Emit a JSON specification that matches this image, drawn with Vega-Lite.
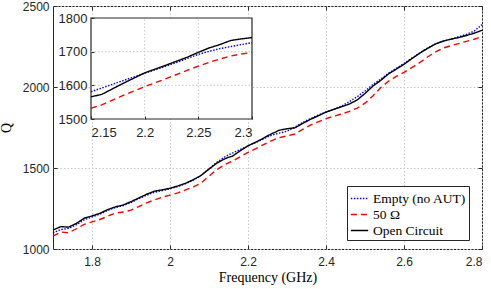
{
  "$schema": "https://vega.github.io/schema/vega-lite/v6.json",
  "width": 429,
  "height": 243,
  "autosize": "none",
  "padding": {"left": 53, "top": 6, "right": 9, "bottom": 40},
  "background": "white",
  "config": {
    "view": {"stroke": "#262626", "strokeWidth": 1},
    "axis": {"labelFont": "Liberation Sans", "labelColor": "#262626", "tickColor": "#262626", "titleFont": "Liberation Serif", "titleColor": "#000000", "titleFontWeight": "normal", "domain": false},
    "legend": {"labelFont": "Liberation Serif"}
  },
  "datasets": {
    "curves": [
      {"f":1.70,"Q":1100,"s":"Empty (no AUT)"},{"f":1.72,"Q":1120,"s":"Empty (no AUT)"},{"f":1.74,"Q":1127,"s":"Empty (no AUT)"},{"f":1.76,"Q":1150,"s":"Empty (no AUT)"},{"f":1.78,"Q":1180,"s":"Empty (no AUT)"},{"f":1.80,"Q":1198,"s":"Empty (no AUT)"},{"f":1.82,"Q":1215,"s":"Empty (no AUT)"},{"f":1.84,"Q":1238,"s":"Empty (no AUT)"},{"f":1.86,"Q":1256,"s":"Empty (no AUT)"},{"f":1.88,"Q":1268,"s":"Empty (no AUT)"},{"f":1.90,"Q":1287,"s":"Empty (no AUT)"},{"f":1.92,"Q":1310,"s":"Empty (no AUT)"},{"f":1.94,"Q":1332,"s":"Empty (no AUT)"},{"f":1.96,"Q":1350,"s":"Empty (no AUT)"},{"f":1.98,"Q":1360,"s":"Empty (no AUT)"},{"f":2.00,"Q":1372,"s":"Empty (no AUT)"},{"f":2.02,"Q":1386,"s":"Empty (no AUT)"},{"f":2.04,"Q":1403,"s":"Empty (no AUT)"},{"f":2.06,"Q":1425,"s":"Empty (no AUT)"},{"f":2.08,"Q":1455,"s":"Empty (no AUT)"},{"f":2.10,"Q":1495,"s":"Empty (no AUT)"},{"f":2.12,"Q":1535,"s":"Empty (no AUT)"},{"f":2.14,"Q":1568,"s":"Empty (no AUT)"},{"f":2.15,"Q":1581,"s":"Empty (no AUT)"},{"f":2.16,"Q":1592,"s":"Empty (no AUT)"},{"f":2.18,"Q":1614,"s":"Empty (no AUT)"},{"f":2.20,"Q":1636,"s":"Empty (no AUT)"},{"f":2.22,"Q":1657,"s":"Empty (no AUT)"},{"f":2.24,"Q":1680,"s":"Empty (no AUT)"},{"f":2.25,"Q":1692,"s":"Empty (no AUT)"},{"f":2.26,"Q":1701,"s":"Empty (no AUT)"},{"f":2.27,"Q":1709,"s":"Empty (no AUT)"},{"f":2.28,"Q":1715,"s":"Empty (no AUT)"},{"f":2.29,"Q":1721,"s":"Empty (no AUT)"},{"f":2.30,"Q":1727,"s":"Empty (no AUT)"},{"f":2.32,"Q":1752,"s":"Empty (no AUT)"},{"f":2.34,"Q":1780,"s":"Empty (no AUT)"},{"f":2.36,"Q":1805,"s":"Empty (no AUT)"},{"f":2.38,"Q":1826,"s":"Empty (no AUT)"},{"f":2.40,"Q":1846,"s":"Empty (no AUT)"},{"f":2.42,"Q":1862,"s":"Empty (no AUT)"},{"f":2.44,"Q":1882,"s":"Empty (no AUT)"},{"f":2.46,"Q":1910,"s":"Empty (no AUT)"},{"f":2.48,"Q":1940,"s":"Empty (no AUT)"},{"f":2.50,"Q":1975,"s":"Empty (no AUT)"},{"f":2.52,"Q":2015,"s":"Empty (no AUT)"},{"f":2.54,"Q":2048,"s":"Empty (no AUT)"},{"f":2.56,"Q":2085,"s":"Empty (no AUT)"},{"f":2.58,"Q":2115,"s":"Empty (no AUT)"},{"f":2.60,"Q":2145,"s":"Empty (no AUT)"},{"f":2.62,"Q":2178,"s":"Empty (no AUT)"},{"f":2.64,"Q":2210,"s":"Empty (no AUT)"},{"f":2.66,"Q":2240,"s":"Empty (no AUT)"},{"f":2.68,"Q":2265,"s":"Empty (no AUT)"},{"f":2.70,"Q":2282,"s":"Empty (no AUT)"},{"f":2.72,"Q":2295,"s":"Empty (no AUT)"},{"f":2.74,"Q":2310,"s":"Empty (no AUT)"},{"f":2.76,"Q":2325,"s":"Empty (no AUT)"},{"f":2.78,"Q":2345,"s":"Empty (no AUT)"},{"f":2.80,"Q":2385,"s":"Empty (no AUT)"},
      {"f":1.70,"Q":1080,"s":"50 Ω"},{"f":1.72,"Q":1105,"s":"50 Ω"},{"f":1.74,"Q":1100,"s":"50 Ω"},{"f":1.76,"Q":1125,"s":"50 Ω"},{"f":1.78,"Q":1152,"s":"50 Ω"},{"f":1.80,"Q":1167,"s":"50 Ω"},{"f":1.82,"Q":1182,"s":"50 Ω"},{"f":1.84,"Q":1202,"s":"50 Ω"},{"f":1.86,"Q":1222,"s":"50 Ω"},{"f":1.88,"Q":1228,"s":"50 Ω"},{"f":1.90,"Q":1240,"s":"50 Ω"},{"f":1.92,"Q":1262,"s":"50 Ω"},{"f":1.94,"Q":1285,"s":"50 Ω"},{"f":1.96,"Q":1303,"s":"50 Ω"},{"f":1.98,"Q":1320,"s":"50 Ω"},{"f":2.00,"Q":1333,"s":"50 Ω"},{"f":2.02,"Q":1346,"s":"50 Ω"},{"f":2.04,"Q":1365,"s":"50 Ω"},{"f":2.06,"Q":1383,"s":"50 Ω"},{"f":2.08,"Q":1408,"s":"50 Ω"},{"f":2.10,"Q":1450,"s":"50 Ω"},{"f":2.12,"Q":1490,"s":"50 Ω"},{"f":2.14,"Q":1520,"s":"50 Ω"},{"f":2.15,"Q":1532,"s":"50 Ω"},{"f":2.16,"Q":1542,"s":"50 Ω"},{"f":2.18,"Q":1570,"s":"50 Ω"},{"f":2.20,"Q":1596,"s":"50 Ω"},{"f":2.22,"Q":1620,"s":"50 Ω"},{"f":2.24,"Q":1645,"s":"50 Ω"},{"f":2.25,"Q":1657,"s":"50 Ω"},{"f":2.26,"Q":1668,"s":"50 Ω"},{"f":2.27,"Q":1678,"s":"50 Ω"},{"f":2.28,"Q":1687,"s":"50 Ω"},{"f":2.29,"Q":1693,"s":"50 Ω"},{"f":2.30,"Q":1698,"s":"50 Ω"},{"f":2.32,"Q":1710,"s":"50 Ω"},{"f":2.34,"Q":1738,"s":"50 Ω"},{"f":2.36,"Q":1765,"s":"50 Ω"},{"f":2.38,"Q":1785,"s":"50 Ω"},{"f":2.40,"Q":1805,"s":"50 Ω"},{"f":2.42,"Q":1820,"s":"50 Ω"},{"f":2.44,"Q":1833,"s":"50 Ω"},{"f":2.46,"Q":1850,"s":"50 Ω"},{"f":2.48,"Q":1870,"s":"50 Ω"},{"f":2.50,"Q":1900,"s":"50 Ω"},{"f":2.52,"Q":1945,"s":"50 Ω"},{"f":2.54,"Q":1995,"s":"50 Ω"},{"f":2.56,"Q":2035,"s":"50 Ω"},{"f":2.58,"Q":2065,"s":"50 Ω"},{"f":2.60,"Q":2090,"s":"50 Ω"},{"f":2.62,"Q":2120,"s":"50 Ω"},{"f":2.64,"Q":2150,"s":"50 Ω"},{"f":2.66,"Q":2185,"s":"50 Ω"},{"f":2.68,"Q":2215,"s":"50 Ω"},{"f":2.70,"Q":2240,"s":"50 Ω"},{"f":2.72,"Q":2255,"s":"50 Ω"},{"f":2.74,"Q":2268,"s":"50 Ω"},{"f":2.76,"Q":2282,"s":"50 Ω"},{"f":2.78,"Q":2295,"s":"50 Ω"},{"f":2.80,"Q":2312,"s":"50 Ω"},
      {"f":1.70,"Q":1117,"s":"Open Circuit"},{"f":1.72,"Q":1138,"s":"Open Circuit"},{"f":1.74,"Q":1135,"s":"Open Circuit"},{"f":1.76,"Q":1158,"s":"Open Circuit"},{"f":1.78,"Q":1190,"s":"Open Circuit"},{"f":1.80,"Q":1204,"s":"Open Circuit"},{"f":1.82,"Q":1220,"s":"Open Circuit"},{"f":1.84,"Q":1243,"s":"Open Circuit"},{"f":1.86,"Q":1260,"s":"Open Circuit"},{"f":1.88,"Q":1272,"s":"Open Circuit"},{"f":1.90,"Q":1292,"s":"Open Circuit"},{"f":1.92,"Q":1315,"s":"Open Circuit"},{"f":1.94,"Q":1338,"s":"Open Circuit"},{"f":1.96,"Q":1357,"s":"Open Circuit"},{"f":1.98,"Q":1365,"s":"Open Circuit"},{"f":2.00,"Q":1375,"s":"Open Circuit"},{"f":2.02,"Q":1389,"s":"Open Circuit"},{"f":2.04,"Q":1406,"s":"Open Circuit"},{"f":2.06,"Q":1428,"s":"Open Circuit"},{"f":2.08,"Q":1455,"s":"Open Circuit"},{"f":2.10,"Q":1493,"s":"Open Circuit"},{"f":2.12,"Q":1530,"s":"Open Circuit"},{"f":2.14,"Q":1556,"s":"Open Circuit"},{"f":2.15,"Q":1566,"s":"Open Circuit"},{"f":2.16,"Q":1573,"s":"Open Circuit"},{"f":2.18,"Q":1606,"s":"Open Circuit"},{"f":2.20,"Q":1637,"s":"Open Circuit"},{"f":2.22,"Q":1660,"s":"Open Circuit"},{"f":2.24,"Q":1684,"s":"Open Circuit"},{"f":2.25,"Q":1698,"s":"Open Circuit"},{"f":2.26,"Q":1711,"s":"Open Circuit"},{"f":2.27,"Q":1721,"s":"Open Circuit"},{"f":2.28,"Q":1733,"s":"Open Circuit"},{"f":2.29,"Q":1738,"s":"Open Circuit"},{"f":2.30,"Q":1742,"s":"Open Circuit"},{"f":2.32,"Q":1748,"s":"Open Circuit"},{"f":2.34,"Q":1775,"s":"Open Circuit"},{"f":2.36,"Q":1800,"s":"Open Circuit"},{"f":2.38,"Q":1822,"s":"Open Circuit"},{"f":2.40,"Q":1845,"s":"Open Circuit"},{"f":2.42,"Q":1862,"s":"Open Circuit"},{"f":2.44,"Q":1878,"s":"Open Circuit"},{"f":2.46,"Q":1895,"s":"Open Circuit"},{"f":2.48,"Q":1920,"s":"Open Circuit"},{"f":2.50,"Q":1960,"s":"Open Circuit"},{"f":2.52,"Q":2005,"s":"Open Circuit"},{"f":2.54,"Q":2040,"s":"Open Circuit"},{"f":2.56,"Q":2080,"s":"Open Circuit"},{"f":2.58,"Q":2110,"s":"Open Circuit"},{"f":2.60,"Q":2140,"s":"Open Circuit"},{"f":2.62,"Q":2175,"s":"Open Circuit"},{"f":2.64,"Q":2208,"s":"Open Circuit"},{"f":2.66,"Q":2238,"s":"Open Circuit"},{"f":2.68,"Q":2265,"s":"Open Circuit"},{"f":2.70,"Q":2283,"s":"Open Circuit"},{"f":2.72,"Q":2295,"s":"Open Circuit"},{"f":2.74,"Q":2305,"s":"Open Circuit"},{"f":2.76,"Q":2318,"s":"Open Circuit"},{"f":2.78,"Q":2332,"s":"Open Circuit"},{"f":2.80,"Q":2350,"s":"Open Circuit"}
    ],
    "xgrid": [{"g": 2.2}, {"g": 2.25}],
    "ygrid": [{"h": 1600}, {"h": 1700}]
  },
  "layer": [
    {
      "layer": [
        {
          "data": {"name": "curves"},
          "mark": {"type": "line", "strokeWidth": 1.4},
          "encoding": {
            "x": {"field": "f", "type": "quantitative",
              "scale": {"domain": [1.7, 2.8], "nice": false, "zero": false},
              "axis": {"orient": "bottom", "values": [1.8, 2.0, 2.2, 2.4, 2.6, 2.8], "format": "~g", "grid": true, "gridDash": [1.5, 2], "gridColor": "#c8c8c8", "tickSize": -4, "labelPadding": 11, "labelFontSize": 12, "title": "Frequency (GHz)", "titleFontSize": 14, "titlePadding": 3}},
            "y": {"field": "Q", "type": "quantitative",
              "scale": {"domain": [1000, 2500], "nice": false, "zero": false},
              "axis": {"orient": "left", "values": [1000, 1500, 2000, 2500], "format": "d", "grid": true, "gridDash": [1.5, 2], "gridColor": "#c8c8c8", "tickSize": -4, "labelPadding": 8, "labelFontSize": 12, "title": "Q", "titleFontSize": 14, "titlePadding": 9}},
            "color": {"field": "s", "type": "nominal",
              "scale": {"domain": ["Empty (no AUT)", "50 Ω", "Open Circuit"], "range": ["#0000ff", "#ff0000", "#000000"]},
              "legend": {"title": null, "orient": "none", "legendX": 294, "legendY": 180, "strokeColor": "#262626", "fillColor": "white", "padding": 3, "symbolType": "stroke", "symbolSize": 300, "symbolStrokeWidth": 1.5, "labelFontSize": 13.5, "labelColor": "#000000", "labelOffset": 4, "rowPadding": 0}},
            "strokeDash": {"field": "s", "type": "nominal",
              "scale": {"domain": ["Empty (no AUT)", "50 Ω", "Open Circuit"], "range": [[1.5, 1.5], [6, 4], [1, 0]]},
              "legend": {"title": null, "orient": "none", "legendX": 294, "legendY": 180, "strokeColor": "#262626", "fillColor": "white", "padding": 3, "symbolType": "stroke", "symbolSize": 300, "symbolStrokeWidth": 1.5, "labelFontSize": 13.5, "labelColor": "#000000", "labelOffset": 4, "rowPadding": 0}}
          }
        },
        {
          "data": {"name": "curves"},
          "mark": {"type": "point", "opacity": 0},
          "encoding": {
            "x": {"field": "f", "type": "quantitative",
              "scale": {"domain": [1.7, 2.8], "nice": false, "zero": false},
              "axis": {"orient": "top", "values": [1.8, 2.0, 2.2, 2.4, 2.6, 2.8], "labels": false, "grid": false, "tickSize": -4, "title": null}},
            "y": {"field": "Q", "type": "quantitative",
              "scale": {"domain": [1000, 2500], "nice": false, "zero": false},
              "axis": {"orient": "right", "values": [1000, 1500, 2000, 2500], "labels": false, "grid": false, "tickSize": -4, "title": null}}
          }
        }
      ],
      "resolve": {"axis": {"x": "independent", "y": "independent"}}
    },
    {
      "layer": [
        {
          "data": {"values": [{"k": 1}]},
          "mark": {"type": "rect", "fill": "white", "stroke": "#262626", "strokeWidth": 1.2},
          "encoding": {
            "x": {"datum": 2.15, "type": "quantitative", "scale": {"domain": [2.15, 2.3], "range": [38, 199], "nice": false, "zero": false},
              "axis": {"orient": "bottom", "offset": -130, "values": [2.15, 2.2, 2.25, 2.3], "format": "~g", "grid": false, "tickSize": -3, "labelPadding": 10, "labelFontSize": 13, "title": null, "zindex": 1}},
            "x2": {"datum": 2.3},
            "y": {"datum": 1500, "type": "quantitative", "scale": {"domain": [1500, 1800], "range": [113, 12], "nice": false, "zero": false},
              "axis": {"orient": "left", "offset": -38, "values": [1500, 1600, 1700, 1800], "format": "d", "grid": false, "tickSize": -3, "labelPadding": 7, "labelFontSize": 13, "title": null, "zindex": 1}},
            "y2": {"datum": 1800}
          }
        },
        {
          "data": {"name": "xgrid"},
          "mark": {"type": "rule", "color": "#c8c8c8", "strokeDash": [1.5, 2], "strokeWidth": 1},
          "encoding": {
            "x": {"field": "g", "type": "quantitative"},
            "y": {"datum": 1500, "type": "quantitative"},
            "y2": {"datum": 1800}
          }
        },
        {
          "data": {"name": "ygrid"},
          "mark": {"type": "rule", "color": "#c8c8c8", "strokeDash": [1.5, 2], "strokeWidth": 1},
          "encoding": {
            "y": {"field": "h", "type": "quantitative"},
            "x": {"datum": 2.15, "type": "quantitative"},
            "x2": {"datum": 2.3}
          }
        },
        {
          "data": {"name": "curves"},
          "transform": [{"filter": "datum.f >= 2.1499 && datum.f <= 2.3001"}],
          "mark": {"type": "line", "strokeWidth": 1.4},
          "encoding": {
            "x": {"field": "f", "type": "quantitative"},
            "y": {"field": "Q", "type": "quantitative"},
            "color": {"field": "s", "type": "nominal"},
            "strokeDash": {"field": "s", "type": "nominal"}
          }
        }
      ]
    }
  ],
  "resolve": {"scale": {"x": "independent", "y": "independent"}, "axis": {"x": "independent", "y": "independent"}}
}
